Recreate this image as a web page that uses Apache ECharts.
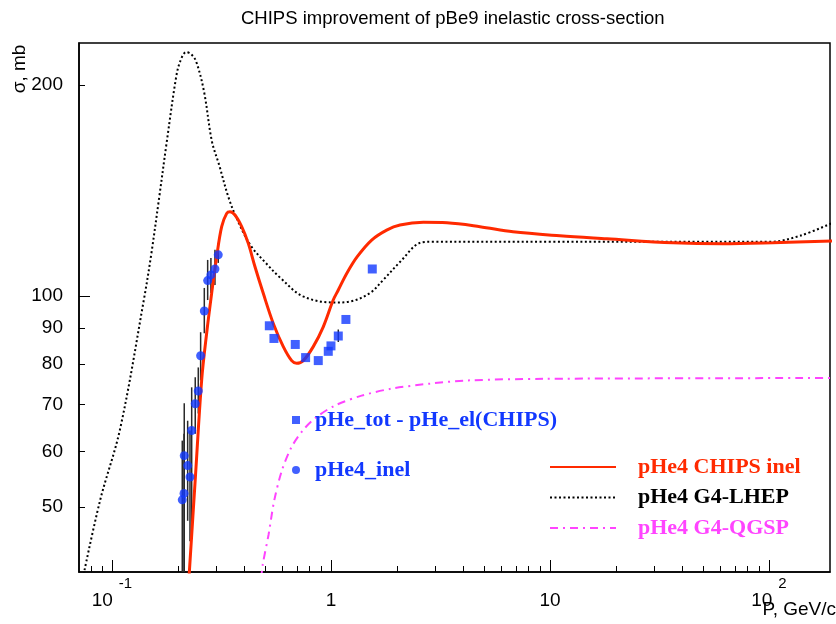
<!DOCTYPE html>
<html><head><meta charset="utf-8">
<script src="https://cdn.jsdelivr.net/npm/echarts@6/dist/echarts.min.js"></script>
<style>html,body{margin:0;padding:0;background:#fff}#c{width:836px;height:624px}</style>
</head><body><div id="c"></div>
<script>
// ---- data ----
const chipsP = [0.2244, 0.2405, 0.2568, 0.2706, 0.2852, 0.3007, 0.3169, 0.3341, 0.3459, 0.3644, 0.3911, 0.4192, 0.4498, 0.4907, 0.5452, 0.6057, 0.6614, 0.6972, 0.7475, 0.8302, 0.9223, 1.024, 1.080, 1.18, 1.318, 1.534, 1.796, 2.066, 2.64, 3.39, 4.79, 6.78, 11.1, 18.2, 36.5, 61.6, 104, 200];
const chipsS = [39.4, 55.3, 75.9, 88.5, 100.9, 113.8, 125.6, 131.2, 131.9, 130.5, 125.6, 118.9, 110.1, 100.9, 91.4, 84.7, 80.9, 80.2, 80.9, 84.7, 90.4, 98.7, 102.0, 107.7, 113.8, 120.2, 124.2, 126.3, 127.4, 127.2, 125.6, 123.5, 121.9, 120.7, 119.1, 118.7, 119.1, 119.9];

const lhepP = [0.0735, 0.0881, 0.109, 0.140, 0.151, 0.164, 0.178, 0.196, 0.2044, 0.218, 0.2295, 0.242, 0.263, 0.286, 0.308, 0.342, 0.378, 0.432, 0.505, 0.585, 0.745, 1.043, 1.22, 1.507, 1.73, 2.07, 2.55, 2.83, 10, 50, 101, 138.6, 200];
const lhepS = [39.5, 51.0, 64.7, 99.0, 114.5, 137.7, 166.2, 204.6, 215.7, 222.8, 221.4, 216.3, 196.0, 166.2, 154.1, 137.7, 127.4, 117.8, 111.4, 106.3, 99.9, 97.9, 98.2, 101.0, 105.4, 111.9, 119.1, 119.5, 119.5, 119.5, 119.5, 121.9, 127.6];

const qgspP = [0.480, 0.488, 0.519, 0.550, 0.596, 0.659, 0.743, 0.854, 1.043, 1.38, 1.90, 2.83, 4.22, 9.39, 200];
const qgspS = [39.5, 41.4, 45.7, 51.0, 56.3, 60.8, 64.3, 67.1, 69.8, 72.1, 73.8, 75.0, 75.8, 76.2, 76.4];

const inelP  = [0.2094, 0.2133, 0.2138, 0.2216, 0.2271, 0.2312, 0.240, 0.2478, 0.254, 0.264, 0.2735, 0.283, 0.2953, 0.3057];
const inelS  = [51.2, 52.3, 59.2, 57.3, 55.2, 64.3, 70.2, 73.2, 82.2, 95.2, 105.2, 107.2, 109.3, 114.5];
const inelLo = [38, 38, 38, 47.8, 44.7, 45.8, 63.6, 68.0, 75.8, 88.5, 98.7, 101, 103.7, 111.5];
const inelHi = [62.2, 63.6, 70.3, 66.4, 64.3, 74.1, 76.6, 79.1, 88.8, 102.7, 112.6, 113.3, 116.4, 119.1];

const diffP = [0.523, 0.549, 0.687, 0.766, 0.875, 0.972, 1.0, 1.08, 1.17, 1.544];
const diffS = [90.7, 87.0, 85.3, 81.7, 80.9, 83.4, 84.9, 87.7, 92.6, 109.3];
const diffErrP = [1.08];
const diffErrLo = [86.0];
const diffErrHi = [89.6];

const xMajorTicks = [0.1, 1, 10, 100];
const xMajorLabels = ['10^-1', '1', '10', '10^2'];
const xMinorTicks = [0.08, 0.09, 0.2, 0.3, 0.4, 0.5, 0.6, 0.7, 0.8, 0.9, 2, 3, 4, 5, 6, 7, 8, 9, 20, 30, 40, 50, 60, 70, 80, 90];
const yLabelTicks = [50, 60, 70, 80, 90, 100, 200];
const yMajorTicks = [100];
const yMinorTicks = [50, 60, 70, 80, 90, 200];

const names = {
  diff: 'pHe_tot - pHe_el(CHIPS)',
  inel: 'pHe4_inel',
  chips: 'pHe4 CHIPS inel',
  lhep: 'pHe4 G4-LHEP',
  qgsp: 'pHe4 G4-QGSP'
};

// ---- build ----
const zip = (a, b) => a.map((v, i) => [v, b[i]]);
const zip3 = (a, b, c) => a.map((v, i) => [v, b[i], c[i]]);
const SANS = 'Liberation Sans, Arial, Helvetica, sans-serif';
const SERIF = 'Liberation Serif, Times New Roman, serif';
const RED = '#ff2a00', BLUE = '#1238ff', MAG = '#ff44ff';
const X_MIN = 0.0707, X_MAX = 190, Y_MIN = 40.4, Y_MAX = 229.6;

function xLabelFmt(v) {
  const idx = xMajorTicks.findIndex(t => Math.abs(Math.log10(t) - Math.log10(v)) < 1e-6);
  const s = idx >= 0 ? xMajorLabels[idx] : String(v);
  const parts = s.split('^');
  if (parts.length === 2) return '{b|' + parts[0] + '}{s|' + parts[1] + '}';
  return '{b|' + s + '}';
}

function errRender(params, api) {
  const x = api.value(0), lo = api.value(1), hi = api.value(2);
  const p1 = api.coord([x, lo]);
  const p2 = api.coord([x, hi]);
  return {
    type: 'line',
    shape: { x1: p1[0], y1: p1[1], x2: p2[0], y2: p2[1] },
    style: { stroke: '#2a2a2a', lineWidth: 1.5 }
  };
}

const chart = echarts.init(document.getElementById('c'), null, { renderer: 'canvas' });
chart.setOption({
  backgroundColor: '#fff',
  animation: false,
  title: {
    text: 'CHIPS improvement of pBe9 inelastic cross-section',
    left: 236, top: 4,
    textStyle: { fontFamily: SANS, fontSize: 18.5, fontWeight: 'normal', color: '#000' }
  },
  grid: {
    left: 79, right: 6, top: 43, bottom: 52,
    show: true, borderColor: '#000', borderWidth: 1.5, backgroundColor: 'transparent'
  },
  xAxis: [{
    type: 'log', logBase: 10, min: X_MIN, max: X_MAX,
    axisLine: { show: true, lineStyle: { color: '#000', width: 1.5 } },
    axisTick: { show: true, inside: true, length: 12, customValues: xMajorTicks, lineStyle: { color: '#000', width: 1 } },
    axisLabel: {
      show: true, customValues: xMajorTicks, margin: 4, formatter: xLabelFmt,
      rich: {
        b: { fontFamily: SANS, fontSize: 19, color: '#000', verticalAlign: 'bottom', lineHeight: 34 },
        s: { fontFamily: SANS, fontSize: 15, color: '#000', verticalAlign: 'top', lineHeight: 34, padding: [0, 0, 0, 6] }
      }
    },
    splitLine: { show: false }, minorTick: { show: false }
  }, {
    type: 'log', logBase: 10, min: X_MIN, max: X_MAX, position: 'bottom',
    axisLine: { show: false },
    axisTick: { show: true, inside: true, length: 6, customValues: xMinorTicks, lineStyle: { color: '#000', width: 1 } },
    axisLabel: { show: false }, splitLine: { show: false }
  }],
  yAxis: [{
    type: 'log', logBase: 10, min: Y_MIN, max: Y_MAX,
    axisLine: { show: true, lineStyle: { color: '#000', width: 1.5 } },
    axisTick: { show: true, inside: true, length: 6, customValues: yMinorTicks, lineStyle: { color: '#000', width: 1 } },
    axisLabel: { show: true, customValues: yLabelTicks, margin: 16, fontFamily: SANS, fontSize: 19, color: '#000' },
    splitLine: { show: false }
  }, {
    type: 'log', logBase: 10, min: Y_MIN, max: Y_MAX, position: 'left',
    axisLine: { show: false },
    axisTick: { show: true, inside: true, length: 11, customValues: yMajorTicks, lineStyle: { color: '#000', width: 1 } },
    axisLabel: { show: false }, splitLine: { show: false }
  }],
  legend: [{
    data: [names.diff, names.inel],
    orient: 'vertical', left: 292, top: 409, padding: 0,
    itemWidth: 8, itemHeight: 8, itemGap: 28, selectedMode: false,
    textStyle: { fontFamily: SERIF, fontSize: 22, fontWeight: 'bold', color: BLUE, lineHeight: 22, padding: [0, 0, 0, 10] }
  }, {
    data: [
      { name: names.chips, textStyle: { color: RED } },
      { name: names.lhep, textStyle: { color: '#000' } },
      { name: names.qgsp, textStyle: { color: MAG } }
    ],
    orient: 'vertical', left: 549, top: 456, padding: 0,
    itemWidth: 66, itemHeight: 10, itemGap: 8.5, selectedMode: false,
    itemStyle: { color: 'rgba(0,0,0,0)', borderWidth: 0, opacity: 0 },
    textStyle: { fontFamily: SERIF, fontSize: 22, fontWeight: 'bold', lineHeight: 22, padding: [0, 0, 0, 17] }
  }],
  graphic: [{
    type: 'text', x: 20, y: 69, rotation: Math.PI / 2,
    style: { text: 'σ, mb', fontFamily: SANS, fontSize: 19, fill: '#000', align: 'center', verticalAlign: 'middle' }
  }, {
    type: 'text', x: 836, y: 610,
    style: { text: 'P, GeV/c', fontFamily: SANS, fontSize: 19, fill: '#000', align: 'right', verticalAlign: 'middle' }
  }],
  series: [{
    name: names.qgsp, type: 'line', data: zip(qgspP, qgspS), smooth: 0.3, symbol: 'none', clip: true,
    lineStyle: { color: MAG, width: 2, type: [8, 5, 2, 5] }, itemStyle: { color: MAG }, z: 2
  }, {
    name: names.lhep, type: 'line', data: zip(lhepP, lhepS), smooth: 0.35, symbol: 'none', clip: true,
    lineStyle: { color: '#000', width: 2, type: [2, 2.5] }, itemStyle: { color: '#000' }, z: 2
  }, {
    name: 'inelErr', type: 'custom', data: zip3(inelP, inelLo, inelHi), renderItem: errRender,
    encode: { x: 0, y: [1, 2] }, clip: true, z: 3
  }, {
    name: 'diffErr', type: 'custom', data: zip3(diffErrP, diffErrLo, diffErrHi), renderItem: errRender,
    encode: { x: 0, y: [1, 2] }, clip: true, z: 3
  }, {
    name: names.chips, type: 'line', data: zip(chipsP, chipsS), smooth: 0.35, symbol: 'none', clip: true,
    lineStyle: { color: RED, width: 3 }, itemStyle: { color: RED }, z: 4
  }, {
    name: names.diff, type: 'scatter', data: zip(diffP, diffS), symbol: 'rect', symbolSize: 9,
    itemStyle: { color: BLUE }, z: 5
  }, {
    name: names.inel, type: 'scatter', data: zip(inelP, inelS), symbol: 'circle', symbolSize: 9,
    itemStyle: { color: BLUE }, z: 5
  }]
});
</script></body></html>
